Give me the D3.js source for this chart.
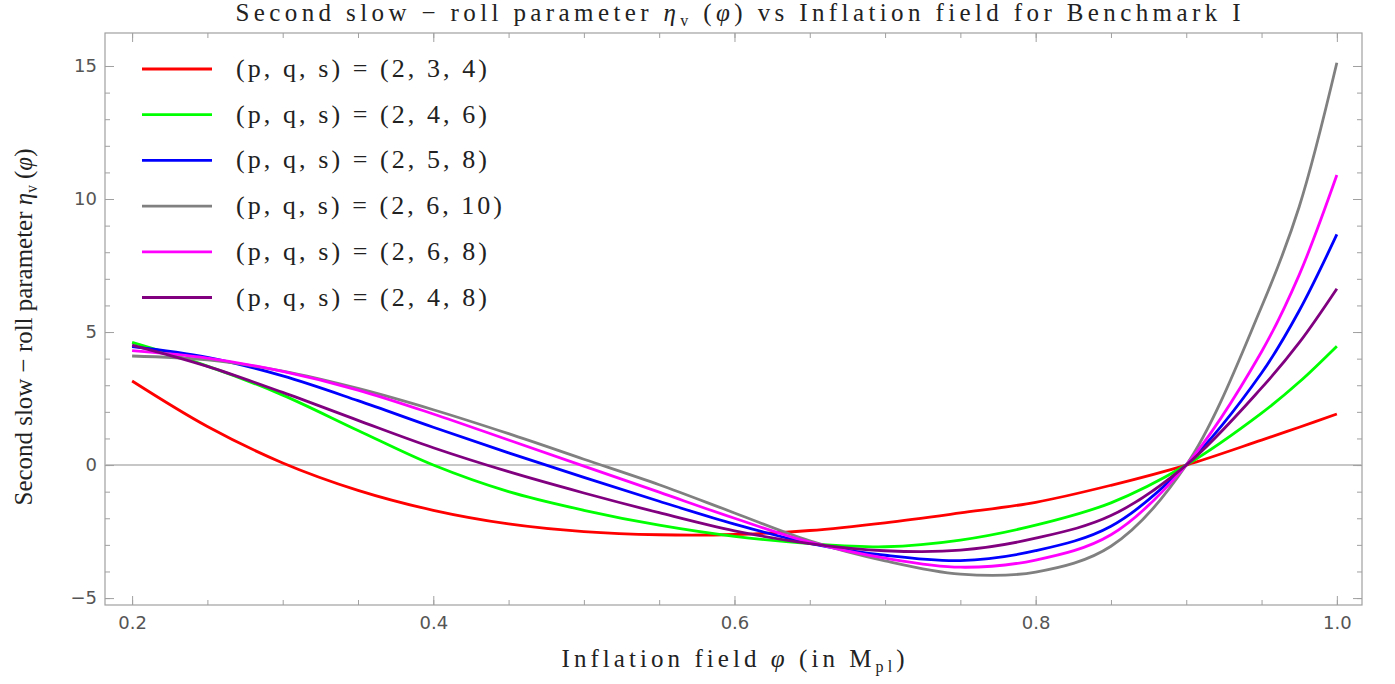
<!DOCTYPE html>
<html lang="en">
<head>
<meta charset="UTF-8">
<title>Second slow-roll parameter vs inflation field</title>
<script src="https://cdn.jsdelivr.net/npm/d3@7/dist/d3.min.js"></script>
<style>
  body { margin: 0; background: #fff; }
</style>
</head>
<body>
<svg width="1395" height="684"></svg>
<script>
const phi = [0.2, 0.25, 0.3, 0.35, 0.4, 0.45, 0.5, 0.55, 0.6, 0.65, 0.7, 0.75, 0.8, 0.85, 0.9, 0.95, 0.975, 1.0];

const eta234  = [3.16, 1.45, 0.08, -0.95, -1.7, -2.21, -2.5, -2.62, -2.61, -2.46, -2.17, -1.8, -1.4, -0.76, 0, 0.94, 1.42, 1.92];
const eta246  = [4.61, 3.72, 2.63, 1.3, 0, -1.0, -1.7, -2.26, -2.68, -2.95, -3.07, -2.82, -2.26, -1.42, 0, 1.95, 3.12, 4.47];
const eta258  = [4.45, 4.05, 3.35, 2.42, 1.42, 0.46, -0.46, -1.36, -2.22, -2.94, -3.39, -3.59, -3.22, -2.3, 0, 3.46, 5.8, 8.67];
const eta2610 = [4.1, 3.95, 3.53, 2.88, 2.08, 1.18, 0.22, -0.74, -1.8, -2.85, -3.6, -4.1, -4.02, -3.05, 0, 5.95, 9.71, 15.12];
const eta268  = [4.3, 4.02, 3.52, 2.82, 1.92, 0.94, -0.04, -1.02, -2.0, -2.9, -3.5, -3.84, -3.57, -2.62, 0, 4.26, 7.15, 10.9];
const eta248  = [4.51, 3.71, 2.73, 1.68, 0.65, -0.25, -1.05, -1.79, -2.47, -2.95, -3.22, -3.2, -2.75, -1.9, 0, 2.9, 4.6, 6.63];

const seriesLabels = ["(p, q, s) = (2, 3, 4)", "(p, q, s) = (2, 4, 6)", "(p, q, s) = (2, 5, 8)",
                      "(p, q, s) = (2, 6, 10)", "(p, q, s) = (2, 6, 8)", "(p, q, s) = (2, 4, 8)"];
const seriesValues = [eta234, eta246, eta258, eta2610, eta268, eta248];

const xMajor = [0.2, 0.4, 0.6, 0.8, 1.0];
const yMajor = [-5, 0, 5, 10, 15];

let svg = d3.select('svg');
let color = d3.scaleOrdinal().domain(seriesLabels)
    .range(["#ff0000", "#00ff00", "#0000ff", "#808080", "#ff00ff", "#800080"]);

let pLeft = 105, pRight = 1362, pTop = 33, pBottom = 605;
let x = d3.scaleLinear().domain([0.182, 1.0167]).range([pLeft, pRight]);
let y = d3.scaleLinear().domain([-5.26, 16.24]).range([pBottom, pTop]);

let xMinor = d3.range(0.2, 1.0001, 0.05);
let yMinor = d3.range(-5, 16, 1);

let serif = "'Liberation Serif', 'Times New Roman', serif";
let sans = "'DejaVu Sans', 'Liberation Sans', sans-serif";

// frame
svg.append("rect")
    .attr("x", pLeft).attr("y", pTop)
    .attr("width", pRight - pLeft).attr("height", pBottom - pTop)
    .style("fill", "none").style("stroke", "#a0a0a0").style("stroke-width", "1.2px");

// zero axis
svg.append("line")
    .attr("x1", pLeft).attr("x2", pRight)
    .attr("y1", y(0)).attr("y2", y(0))
    .style("stroke", "#b4b4b4").style("stroke-width", "1.5px");

function frameAxis(axis, tr, size, values, labelled) {
    let g = svg.append("g")
        .attr("transform", tr)
        .attr("color", "#a0a0a0")
        .call(axis.tickValues(values).tickSizeInner(size).tickSizeOuter(0));
    g.select(".domain").remove();
    if (!labelled) g.selectAll("text").remove();
    g.selectAll("text")
        .style("font-family", sans).style("font-size", "18px").style("fill", "#555");
    return g;
}

// bottom / top ticks
frameAxis(d3.axisBottom(x).tickPadding(11).tickFormat(d3.format(".1f")), `translate(0,${pBottom})`, -9, xMajor, true);
frameAxis(d3.axisBottom(x), `translate(0,${pBottom})`, -5, xMinor, false);
frameAxis(d3.axisTop(x), `translate(0,${pTop})`, -9, xMajor, false);
frameAxis(d3.axisTop(x), `translate(0,${pTop})`, -5, xMinor, false);

// left / right ticks
frameAxis(d3.axisLeft(y).tickPadding(8), `translate(${pLeft},0)`, -9, yMajor, true);
frameAxis(d3.axisLeft(y), `translate(${pLeft},0)`, -5, yMinor, false);
frameAxis(d3.axisRight(y), `translate(${pRight},0)`, -9, yMajor, false);
frameAxis(d3.axisRight(y), `translate(${pRight},0)`, -5, yMinor, false);

// curves
let line = d3.line()
    .x(d => x(d[0]))
    .y(d => y(d[1]))
    .curve(d3.curveCatmullRom.alpha(0.5));

seriesValues.forEach(function (vals, i) {
    svg.append("path")
        .datum(phi.map((p, j) => [p, vals[j]]))
        .attr("d", line)
        .style("fill", "none")
        .style("stroke", color(seriesLabels[i]))
        .style("stroke-width", "2.8px");
});

// legend
let legend = svg.append("g");
seriesLabels.forEach(function (lab, i) {
    let ly = 69 + i * 45.7;
    legend.append("line")
        .attr("x1", 142).attr("x2", 212).attr("y1", ly).attr("y2", ly)
        .style("stroke", color(lab)).style("stroke-width", "2.8px");
    legend.append("text")
        .attr("x", 236).attr("y", ly + 8)
        .attr("textLength", lab.length > 21 ? 266 : 251)
        .attr("lengthAdjust", "spacing")
        .style("font-family", serif).style("font-size", "26px").style("fill", "#222")
        .text(lab);
});

// title
let title = svg.append("text")
    .attr("x", 738).attr("y", 21)
    .attr("text-anchor", "middle")
    .attr("textLength", 1005).attr("lengthAdjust", "spacing")
    .style("font-family", serif).style("font-size", "25px").style("fill", "#222");
title.append("tspan").text("Second slow \u2212 roll parameter ");
title.append("tspan").style("font-style", "italic").text("\u03b7");
title.append("tspan").attr("dy", 5).style("font-size", "16px").text("v");
title.append("tspan").attr("dy", -5).text(" (");
title.append("tspan").style("font-style", "italic").text("\u03c6");
title.append("tspan").text(") vs Inflation field for Benchmark I");

// x label
let xl = svg.append("text")
    .attr("x", 733).attr("y", 667)
    .attr("text-anchor", "middle")
    .attr("textLength", 343).attr("lengthAdjust", "spacing")
    .style("font-family", serif).style("font-size", "25px").style("fill", "#222");
xl.append("tspan").text("Inflation field ");
xl.append("tspan").style("font-style", "italic").text("\u03c6");
xl.append("tspan").text(" (in M");
xl.append("tspan").attr("dy", 5).style("font-size", "16px").text("pl");
xl.append("tspan").attr("dy", -5).text(")");

// y label
let yl = svg.append("text")
    .attr("transform", "translate(32,327) rotate(-90)")
    .attr("text-anchor", "middle")
    .attr("textLength", 357).attr("lengthAdjust", "spacingAndGlyphs")
    .style("font-family", serif).style("font-size", "26px").style("fill", "#222");
yl.append("tspan").text("Second slow \u2212 roll parameter ");
yl.append("tspan").style("font-style", "italic").text("\u03b7");
yl.append("tspan").attr("dy", 5).style("font-size", "16px").text("v");
yl.append("tspan").attr("dy", -5).text(" (");
yl.append("tspan").style("font-style", "italic").text("\u03c6");
yl.append("tspan").text(")");
</script>
</body>
</html>
